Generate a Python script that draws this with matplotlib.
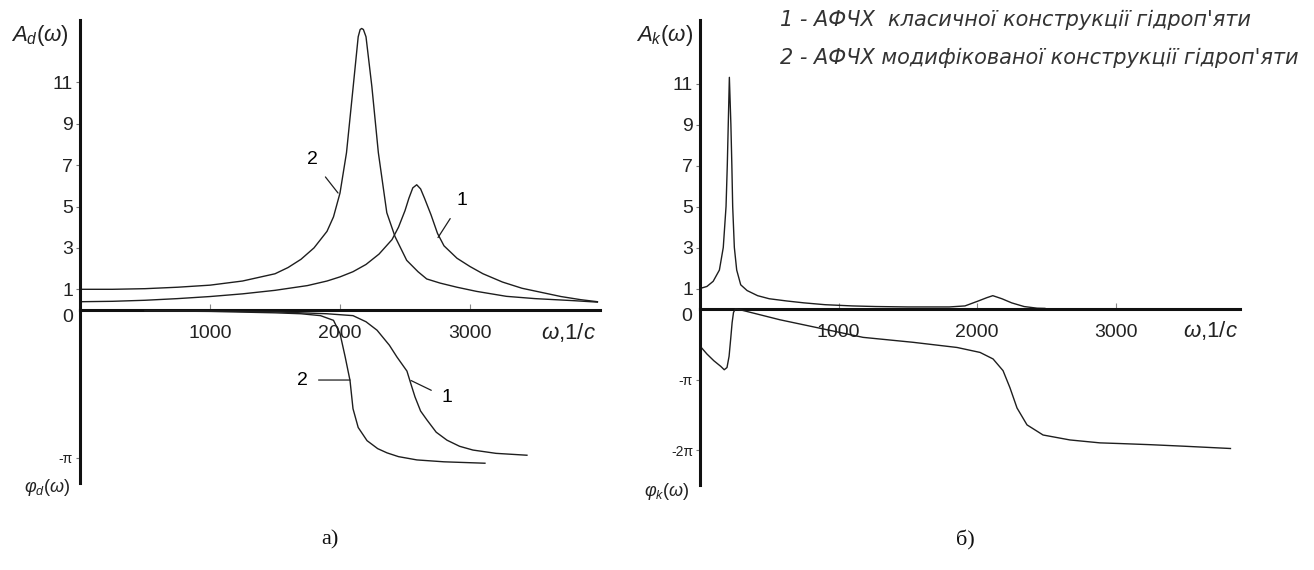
import numpy as np
import matplotlib
matplotlib.use("Agg")
import matplotlib.pyplot as plt

plt.rcParams['font.family'] = ['Liberation Sans', 'DejaVu Sans']
plt.rcParams['mathtext.fontset'] = 'custom'
plt.rcParams['mathtext.it'] = 'Liberation Sans:italic'
plt.rcParams['mathtext.rm'] = 'Liberation Sans'

# ---------------- data ----------------
# panel a) amplitude
w_a1 = [0, 250, 500, 750, 1000, 1250, 1500, 1750, 1900, 2000, 2100, 2200, 2300, 2400, 2450,
        2500, 2530, 2560, 2590, 2620, 2650, 2700, 2750, 2800, 2900, 3000, 3100, 3250, 3400,
        3550, 3700, 3850, 3980]
A_a1 = [0.40, 0.42, 0.47, 0.55, 0.65, 0.78, 0.95, 1.18, 1.40, 1.60, 1.85, 2.20, 2.70, 3.40, 4.00,
        4.80, 5.40, 5.90, 6.05, 5.85, 5.40, 4.60, 3.70, 3.10, 2.50, 2.10, 1.75, 1.35, 1.05,
        0.85, 0.65, 0.50, 0.40]
w_a2 = [0, 250, 500, 750, 1000, 1250, 1500, 1600, 1700, 1800, 1900, 1950, 2000, 2050, 2100,
        2140, 2155, 2167, 2180, 2200, 2245, 2295, 2360, 2423, 2513, 2600, 2667, 2770, 2900,
        3050, 3280, 3500, 3800, 3980]
A_a2 = [1.00, 1.00, 1.03, 1.10, 1.20, 1.40, 1.75, 2.05, 2.45, 3.00, 3.80, 4.50, 5.65, 7.60, 10.7,
        13.2, 13.55, 13.6, 13.55, 13.2, 10.8, 7.60, 4.70, 3.55, 2.40, 1.85, 1.50, 1.30, 1.10,
        0.90, 0.66, 0.55, 0.45, 0.38]
# panel a) phase
wp_a1 = [500, 1000, 1500, 1900, 2100, 2200, 2285, 2380, 2438, 2515, 2545, 2577, 2620, 2669,
         2740, 2823, 2920, 3023, 3200, 3438]
P_a1 = [-0.01, -0.02, -0.04, -0.08, -0.12, -0.25, -0.43, -0.75, -1.00, -1.30, -1.57, -1.85,
        -2.15, -2.34, -2.60, -2.77, -2.90, -2.98, -3.05, -3.09]
wp_a2 = [500, 1000, 1500, 1700, 1850, 1950, 2000, 2040, 2077, 2100, 2140, 2208, 2290, 2362,
         2450, 2592, 2800, 3115]
P_a2 = [-0.02, -0.03, -0.06, -0.08, -0.12, -0.22, -0.50, -1.00, -1.50, -2.10, -2.50, -2.78,
        -2.95, -3.04, -3.12, -3.19, -3.23, -3.26]
# panel б) amplitude
w_b = [0, 50, 95, 140, 168, 188, 197, 204, 212, 223, 230, 236, 248, 265, 294, 340, 416, 500,
       628, 750, 903, 1100, 1270, 1500, 1800, 1913, 2009, 2070, 2114, 2180, 2250, 2340, 2434,
       2490]
A_b = [1.00, 1.10, 1.35, 1.90, 3.00, 5.00, 7.00, 9.00, 11.3, 9.00, 7.00, 5.00, 3.00, 1.90,
       1.18, 0.90, 0.65, 0.50, 0.39, 0.30, 0.21, 0.15, 0.12, 0.10, 0.10, 0.15, 0.39, 0.55,
       0.65, 0.50, 0.30, 0.12, 0.04, 0.03]
# panel б) phase
wp_b = [12, 50, 100, 150, 175, 195, 210, 222, 232, 242, 255, 300, 578, 939, 1177, 1538, 1856,
        2022, 2116, 2188, 2238, 2289, 2361, 2477, 2671, 2888, 3032, 3250, 3500, 3830]
P_b = [-1.73, -2.00, -2.30, -2.55, -2.70, -2.60, -2.10, -1.30, -0.60, -0.15, 0.00, -0.05,
       -0.48, -0.95, -1.26, -1.48, -1.71, -1.93, -2.22, -2.74, -3.50, -4.40, -5.15, -5.60,
       -5.82, -5.95, -5.98, -6.03, -6.10, -6.20]

amp_ticks = [1, 3, 5, 7, 9, 11]
x_ticks = [1000, 2000, 3000]

legend1 = "1 - АФЧХ  класичної конструкції гідроп'яти"
legend2 = "2 - АФЧХ модифікованої конструкції гідроп'яти"

# ---------------- layout ----------------
W, H = 1314, 570
fig = plt.figure(figsize=(W / 100, H / 100), dpi=100)
fig.patch.set_facecolor('white')


def box(x0, x1, ytop, ybot):
    return [x0 / W, 1 - ybot / H, (x1 - x0) / W, (ybot - ytop) / H]


LC = '#1e1e1e'
AX = '#111111'
TICKFS = 14


def make_pair(x0, x1, ytop, yzero, ybot, xmax, amax, pmin, zero_x):
    up = fig.add_axes(box(x0, x1, ytop, yzero))
    lo = fig.add_axes(box(x0, x1, yzero, ybot))
    for a in (up, lo):
        a.patch.set_alpha(0)
        a.set_xlim(0, xmax)
        for s in ('top', 'right'):
            a.spines[s].set_visible(False)
        a.spines['left'].set_linewidth(2.2)
        a.spines['left'].set_color(AX)
    up.set_ylim(0, amax)
    lo.set_ylim(pmin, 0)
    up.spines['bottom'].set_linewidth(2.2)
    up.spines['bottom'].set_color(AX)
    lo.spines['bottom'].set_visible(False)
    up.set_xticks(x_ticks)
    up.set_xticklabels([str(t) for t in x_ticks], fontsize=TICKFS, color='#222')
    up.tick_params(axis='x', direction='in', length=4, width=0.8, color='#888', pad=11)
    lo.set_xticks([])
    up.set_yticks(amp_ticks)
    up.set_yticklabels([str(t) for t in amp_ticks], fontsize=TICKFS, color='#222')
    up.tick_params(axis='y', direction='out', length=3, width=0.8, color='#777', pad=2)
    up.text(zero_x, 0.05, '0', fontsize=TICKFS, ha='right', va='top', color='#222')
    return up, lo


# panel a)
ua, la = make_pair(80, 600, 20, 310, 483, 4000, 290 / 20.7, -173 / 47, -55)
la.set_yticks([-np.pi])
la.set_yticklabels(['-π'], fontsize=10, color='#222')
la.tick_params(axis='y', direction='out', length=3, width=0.8, color='#777', pad=2)

ua.plot(w_a1, A_a1, color=LC, lw=1.0, clip_on=False)
ua.plot(w_a2, A_a2, color=LC, lw=1.0, clip_on=False)
la.plot(wp_a1, P_a1, color=LC, lw=1.0, clip_on=False)
la.plot(wp_a2, P_a2, color=LC, lw=1.0, clip_on=False)

# curve labels with leader lines (panel a)
ua.annotate('2', xy=(1985, 5.65), xytext=(1785, 7.25), fontsize=14, ha='center', va='center',
            arrowprops=dict(arrowstyle='-', color=LC, lw=0.9, shrinkA=6, shrinkB=0))
ua.annotate('1', xy=(2754, 3.5), xytext=(2938, 5.3), fontsize=14, ha='center', va='center',
            arrowprops=dict(arrowstyle='-', color=LC, lw=0.9, shrinkA=6, shrinkB=0))
la.annotate('2', xy=(2077, -1.49), xytext=(1708, -1.49), fontsize=14, ha='center', va='center',
            arrowprops=dict(arrowstyle='-', color=LC, lw=0.9, shrinkA=6, shrinkB=0))
la.annotate('1', xy=(2546, -1.5), xytext=(2823, -1.87), fontsize=14, ha='center', va='center',
            arrowprops=dict(arrowstyle='-', color=LC, lw=0.9, shrinkA=6, shrinkB=0))

# panel б)
ub, lb = make_pair(700, 1240, 20, 309, 485, 540 / 0.1385, 289 / 20.5, -176 / 22.5, -60)
lb.set_yticks([-np.pi, -2 * np.pi])
lb.set_yticklabels(['-π', '-2π'], fontsize=10, color='#222')
lb.tick_params(axis='y', direction='out', length=3, width=0.8, color='#777', pad=2)

ub.plot(w_b, A_b, color=LC, lw=1.0, clip_on=False)
lb.plot(wp_b, P_b, color=LC, lw=1.0, clip_on=False)


# axis titles
def ftext(x, y, s, **kw):
    fig.text(x / W, 1 - y / H, s, **kw)


ftext(40, 35, r'$A_d(\omega)$', fontsize=16, ha='center', va='center', color='#222')
ftext(47, 488, r'$\varphi_d(\omega)$', fontsize=13, ha='center', va='center', color='#222')
ftext(665, 35, r'$A_k(\omega)$', fontsize=16, ha='center', va='center', color='#222')
ftext(667, 492, r'$\varphi_k(\omega)$', fontsize=13, ha='center', va='center', color='#222')
ftext(568, 333, r'$\omega$' + ',1/' + r'$c$', fontsize=16, ha='center', va='center', color='#222')
ftext(1210, 331, r'$\omega$' + ',1/' + r'$c$', fontsize=16, ha='center', va='center', color='#222')

ftext(780, 20, legend1, fontsize=15, family='DejaVu Sans', style='italic', ha='left',
      va='center', color='#333')
ftext(780, 58, legend2, fontsize=15, family='DejaVu Sans', style='italic', ha='left',
      va='center', color='#333')

ftext(330, 540, 'а)', fontsize=16, family='Liberation Serif', ha='center', va='center', color='#111')
ftext(965, 540, 'б)', fontsize=16, family='Liberation Serif', ha='center', va='center', color='#111')

fig.savefig('out.png', dpi=100, facecolor='white')
